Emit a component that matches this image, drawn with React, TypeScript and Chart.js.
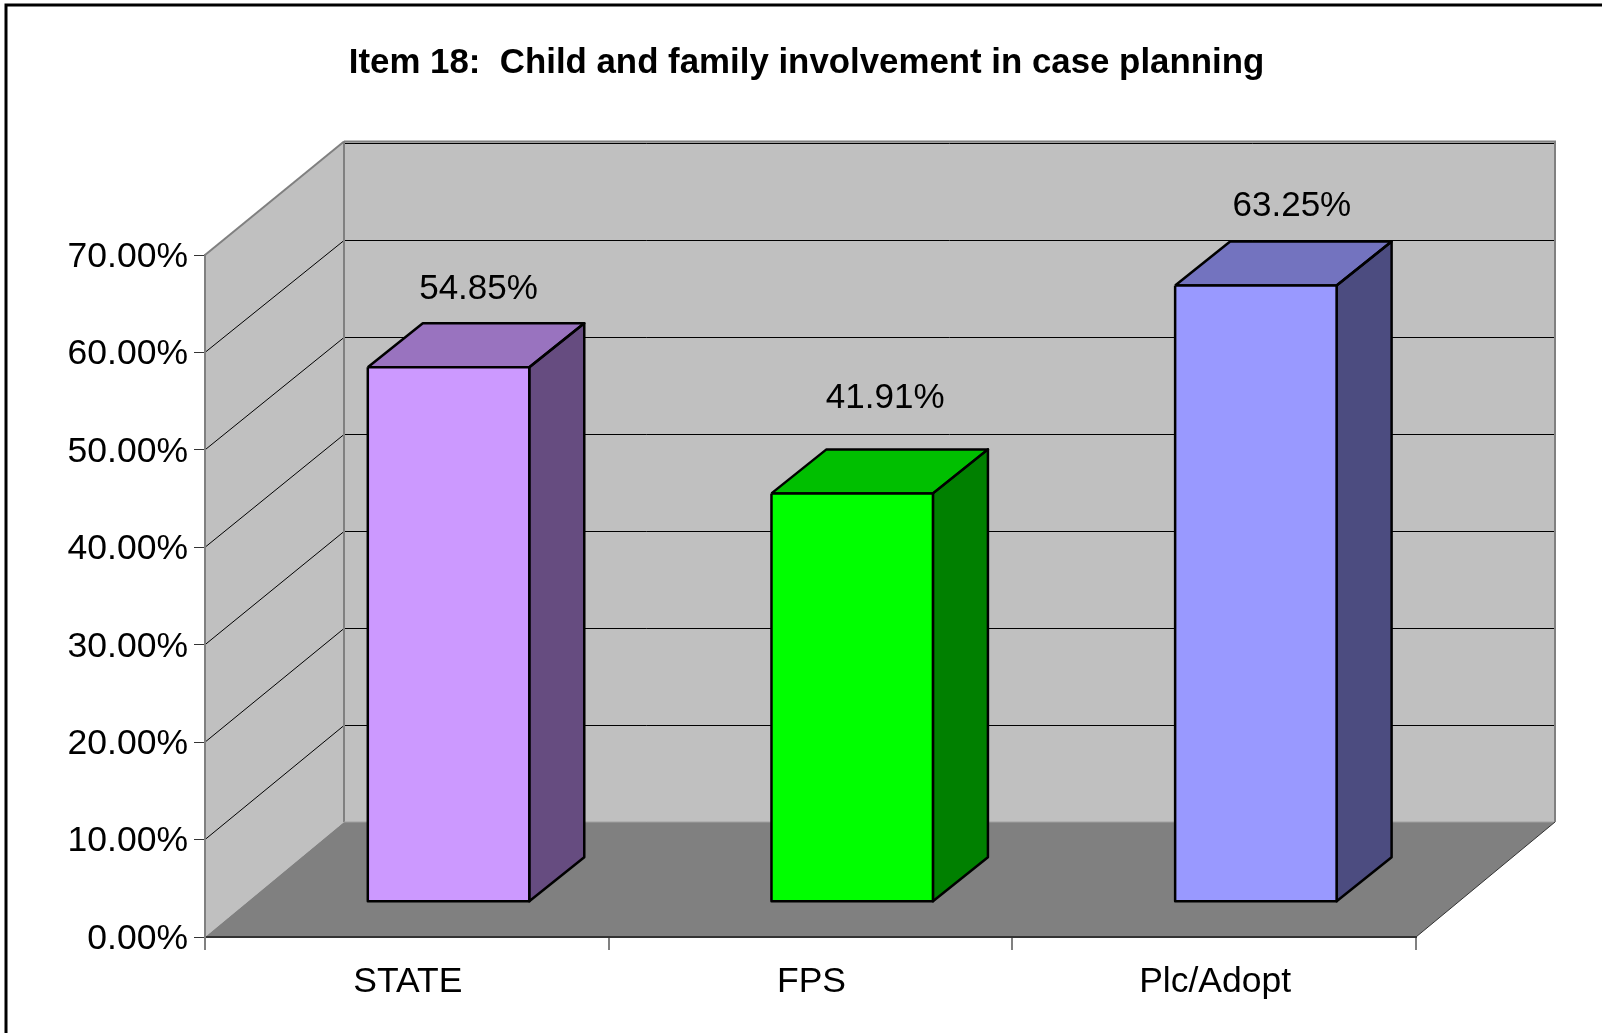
import React, { useEffect, useRef } from "react";
import { Chart, registerables } from "chart.js";

Chart.register(...registerables);

const categories = ["STATE", "FPS", "Plc/Adopt"];
const values = [54.85, 41.91, 63.25];
const frontColors = ["#CC99FF", "#00FF00", "#9999FF"];
const sideColors = ["#664C80", "#008000", "#4C4C80"];
const topColors = ["#9973BF", "#00BF00", "#7373BF"];
const chartTitle = "Item 18:  Child and family involvement in case planning";

const FONT = "'Liberation Sans', Arial, sans-serif";
const WALL_DX = 139;
const WALL_DY = 115;
const BACK_SCALE = 679 / 682;
const BAR_OFFSET_X = 41.7;
const BAR_OFFSET_Y = 35.3;
const BAR_DX = 55;
const BAR_DY = 44;
const LABEL_SHIFT_X = [-6, -3, 0];
const LABEL_SHIFT_Y = [4, -13, 3];

const percent = (v: number) => `${v.toFixed(2)}%`;

const line = (ctx: CanvasRenderingContext2D, pts: number[][], color: string, width: number) => {
  ctx.beginPath();
  pts.forEach((p, i) => (i ? ctx.lineTo(p[0], p[1]) : ctx.moveTo(p[0], p[1])));
  ctx.strokeStyle = color;
  ctx.lineWidth = width;
  ctx.stroke();
};

const poly = (ctx: CanvasRenderingContext2D, pts: number[][], fill: string) => {
  ctx.beginPath();
  pts.forEach((p, i) => (i ? ctx.lineTo(p[0], p[1]) : ctx.moveTo(p[0], p[1])));
  ctx.closePath();
  ctx.fillStyle = fill;
  ctx.fill();
};

const framePlugin = {
  id: "frame3d",
  beforeDraw(chart: any) {
    const { ctx, chartArea: a, scales } = chart;
    const y = scales.y;
    ctx.save();
    ctx.fillStyle = "#ffffff";
    ctx.fillRect(0, 0, chart.width, chart.height);
    ctx.strokeStyle = "#000000";
    ctx.lineWidth = 3;
    ctx.strokeRect(6, 5, chart.width + 50, chart.height + 50);

    const bl = a.left + WALL_DX;
    const br = a.right + WALL_DX;
    const bb = a.bottom - WALL_DY;
    const backY = (py: number) => Math.round(bb - (a.bottom - py) * BACK_SCALE) + 0.5;
    const bt = backY(a.top) - 2;

    poly(ctx, [[a.left, a.top], [bl, bt], [bl, bb], [a.left, a.bottom]], "#C0C0C0");
    poly(ctx, [[bl, bt], [br, bt], [br, bb], [bl, bb]], "#C0C0C0");

    y.ticks.forEach((t: any) => {
      if (t.value === 0) return;
      const py = y.getPixelForValue(t.value);
      const isTop = t.value === y.max;
      line(ctx, [[a.left, py], [bl, isTop ? bt : backY(py)]], isTop ? "#808080" : "#000000", isTop ? 2 : 1);
      line(ctx, [[bl, backY(py)], [br, backY(py)]], "#000000", 1);
    });

    poly(ctx, [[a.left, a.bottom], [bl, bb], [br, bb], [a.right, a.bottom]], "#808080");
    line(ctx, [[bl, bt], [br, bt], [br, bb]], "#808080", 2);
    line(ctx, [[bl, bt], [bl, bb]], "#808080", 2);
    line(ctx, [[bl, bb], [br, bb]], "#A0A0A0", 1);
    line(ctx, [[a.right, a.bottom], [br, bb]], "#333333", 1);
    ctx.restore();
  },
  beforeDatasetsDraw(chart: any) {
    const { ctx } = chart;
    ctx.save();
    ctx.translate(BAR_OFFSET_X, -BAR_OFFSET_Y);
    chart.getDatasetMeta(0).data.forEach((bar: any, i: number) => {
      const l = bar.x - bar.width / 2;
      const r = bar.x + bar.width / 2;
      const top = bar.y;
      const base = bar.base;
      const side = [[r, top], [r + BAR_DX, top - BAR_DY], [r + BAR_DX, base - BAR_DY], [r, base]];
      const roof = [[l, top], [l + BAR_DX, top - BAR_DY], [r + BAR_DX, top - BAR_DY], [r, top]];
      poly(ctx, side, sideColors[i]);
      poly(ctx, roof, topColors[i]);
      ctx.lineJoin = "round";
      line(ctx, [...side, side[0]], "#000000", 2.5);
      line(ctx, [...roof, roof[0]], "#000000", 2.5);
    });
  },
  afterDatasetsDraw(chart: any) {
    const { ctx } = chart;
    const bars = chart.getDatasetMeta(0).data;
    bars.forEach((bar: any) => {
      const l = bar.x - bar.width / 2;
      const r = bar.x + bar.width / 2;
      ctx.lineJoin = "round";
      line(ctx, [[l, bar.y], [r, bar.y], [r, bar.base], [l, bar.base], [l, bar.y]], "#000000", 2.5);
    });
    ctx.restore();
    ctx.save();
    ctx.font = `35px ${FONT}`;
    ctx.fillStyle = "#000000";
    ctx.textAlign = "center";
    ctx.textBaseline = "middle";
    bars.forEach((bar: any, i: number) => {
      ctx.fillText(
        percent(values[i]),
        bar.x + BAR_OFFSET_X + 36 + LABEL_SHIFT_X[i],
        bar.y - BAR_OFFSET_Y - 82 + LABEL_SHIFT_Y[i]
      );
    });
    ctx.restore();
  },
};

export default function App() {
  const ref = useRef<HTMLCanvasElement>(null);
  useEffect(() => {
    const chart = new Chart(ref.current as HTMLCanvasElement, {
      type: "bar",
      data: {
        labels: categories,
        datasets: [
          {
            data: values,
            backgroundColor: frontColors,
            borderWidth: 0,
            barPercentage: 0.4,
            categoryPercentage: 1,
            clip: false as any,
          },
        ],
      },
      options: {
        responsive: false,
        animation: false,
        layout: { padding: { left: 11, right: 0, top: 0, bottom: 0 } },
        plugins: {
          legend: { display: false },
          tooltip: { enabled: false },
          title: {
            display: true,
            text: chartTitle,
            color: "#000000",
            font: { family: FONT, size: 34.85, weight: "bold", lineHeight: 1.2 },
            padding: { top: 42, bottom: 171.18 },
          },
        },
        scales: {
          x: {
            afterFit: (s: any) => {
              s.height = 96;
            },
            grid: { drawOnChartArea: false, drawTicks: true, tickLength: 13, color: "#808080", lineWidth: 2 },
            border: { display: true, color: "#333333", width: 2 },
            ticks: { color: "#000000", font: { family: FONT, size: 35.5 }, padding: 11, maxRotation: 0, labelOffset: 1 },
          },
          y: {
            min: 0,
            max: 70,
            afterFit: (s: any) => {
              s.width = 194;
            },
            grid: { drawOnChartArea: false, drawTicks: true, tickLength: 11, color: "#333333", lineWidth: 1 },
            border: { display: true, color: "#808080", width: 2 },
            ticks: {
              stepSize: 10,
              color: "#000000",
              font: { family: FONT, size: 35.5 },
              padding: 6,
              labelOffset: 2,
              callback: (v: any) => percent(Number(v)),
            },
          },
          spacer: {
            position: "right",
            min: 0,
            max: 70,
            display: true,
            afterFit: (s: any) => {
              s.width = 186;
            },
            grid: { display: false },
            border: { display: false },
            ticks: { display: false },
          },
        },
      },
      plugins: [framePlugin],
    } as any);
    return () => chart.destroy();
  }, []);
  return (
    <canvas
      ref={ref}
      width={1602}
      height={1033}
      style={{ position: "fixed", left: 0, top: 0, display: "block" }}
    />
  );
}
